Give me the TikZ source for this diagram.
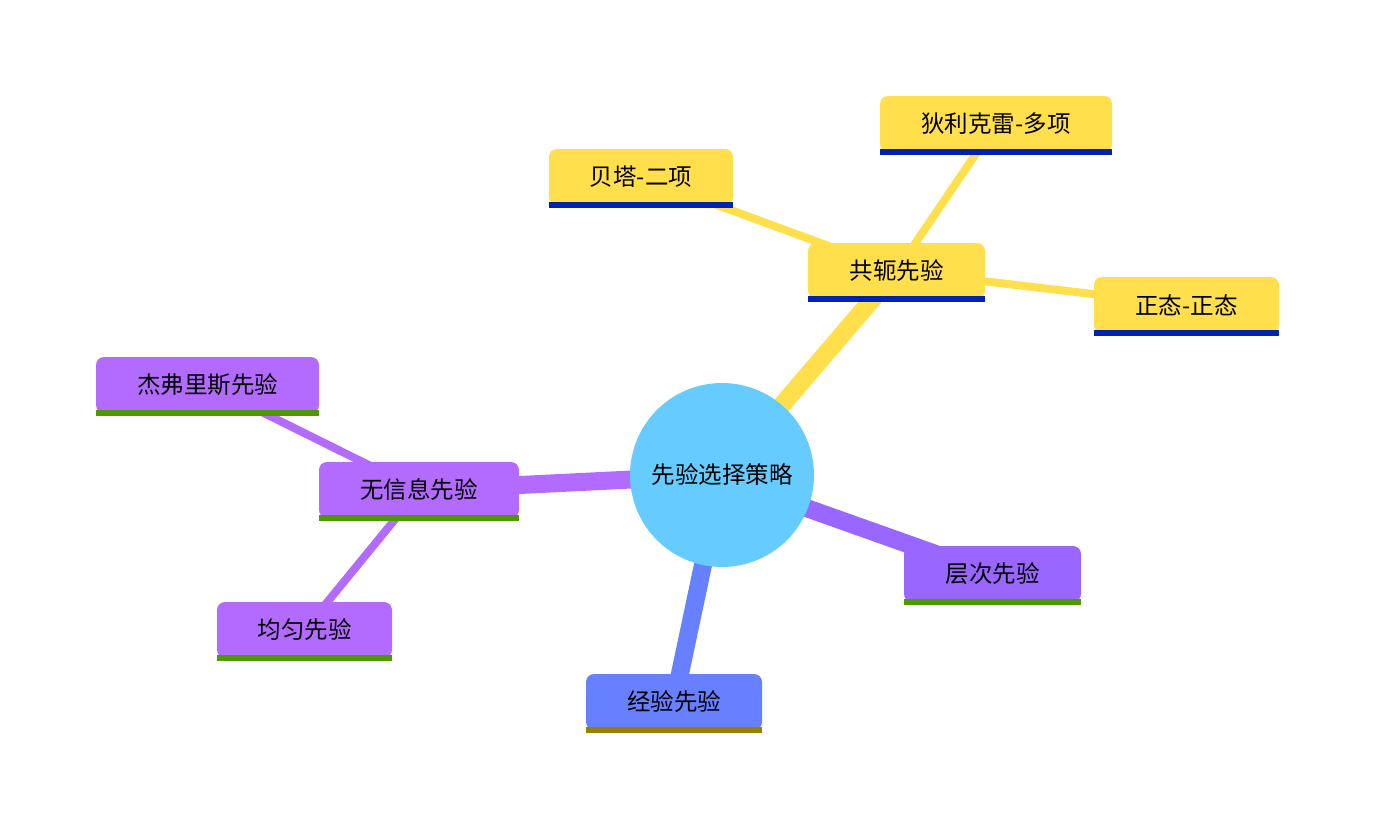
\documentclass[tikz,border=0pt]{standalone}
\usepackage{fontspec}
\setmainfont{Noto Sans CJK SC}
\usetikzlibrary{calc}
\definecolor{cyel}{HTML}{FFDF4B}
\definecolor{cblu}{HTML}{0022B0}
\definecolor{cpur}{HTML}{B36BFF}
\definecolor{cpur2}{HTML}{9966FF}
\definecolor{cgrn}{HTML}{4C9A00}
\definecolor{ccir}{HTML}{66CCFF}
\definecolor{cexp}{HTML}{6680FF}
\definecolor{coli}{HTML}{998000}
\tikzset{
  mbox/.style={rectangle, rounded corners=8pt, inner sep=0pt, minimum height=56pt, font=\fontsize{23.5}{27}\selectfont, text=black},
  mainline/.style={line width=18pt},
  subline/.style={line width=8pt},
}
\begin{document}
\begin{tikzpicture}[x=1pt,y=-1pt]
\useasboundingbox (0,0) rectangle (1375,825);
% anchor coordinates for connectors
\coordinate (c0) at (722,475);
\coordinate (gE) at (896.5,271);
\coordinate (wE) at (419,490);
\coordinate (hE) at (992,574);
\coordinate (jE) at (674,702);
\coordinate (c1) at (722,478);
% connectors
\draw[mainline, cyel] (c0) -- (gE);
\draw[mainline, cpur] (c0) -- (wE);
\draw[mainline, cpur2] (c1) -- (hE);
\draw[mainline, cexp] (c0) -- (jE);
\draw[subline, cyel] (gE) -- (641,177) coordinate (bE);
\draw[subline, cyel] (gE) -- (996,124) coordinate (dE);
\draw[subline, cyel] (gE) -- (1186.5,305) coordinate (zE);
\draw[subline, cpur] (wE) -- (207.5,385) coordinate (fE);
\draw[subline, cpur] (wE) -- (304.5,630) coordinate (yE);
% center
\node[circle, fill=ccir, minimum size=184pt, inner sep=0pt, font=\fontsize{23.5}{27}\selectfont] (root) at (722,475) {先验选择策略};
% boxes
\node[mbox, fill=cyel, minimum width=177pt] (gong) at (896.5,271) {共轭先验};
\node[mbox, fill=cyel, minimum width=232pt] (dir) at (996,124) {狄利克雷-多项};
\node[mbox, fill=cyel, minimum width=184pt] (beta) at (641,177) {贝塔-二项};
\node[mbox, fill=cyel, minimum width=185pt] (norm) at (1186.5,305) {正态-正态};
\node[mbox, fill=cpur, minimum width=223pt] (jef) at (207.5,385) {杰弗里斯先验};
\node[mbox, fill=cpur, minimum width=200pt] (wux) at (419,490) {无信息先验};
\node[mbox, fill=cpur, minimum width=175pt] (uni) at (304.5,630) {均匀先验};
\node[mbox, fill=cpur2, minimum width=177pt] (hier) at (992.5,574) {层次先验};
\node[mbox, fill=cexp, minimum width=176pt] (emp) at (674,702) {经验先验};
% underlines
\foreach \n in {gong,dir,beta,norm}
  \fill[cblu] ([yshift=3pt]\n.south west) rectangle ([yshift=-3pt]\n.south east);
\foreach \n in {jef,wux,uni,hier}
  \fill[cgrn] ([yshift=3pt]\n.south west) rectangle ([yshift=-3pt]\n.south east);
\fill[coli] ([yshift=3pt]emp.south west) rectangle ([yshift=-3pt]emp.south east);
\end{tikzpicture}
\end{document}
